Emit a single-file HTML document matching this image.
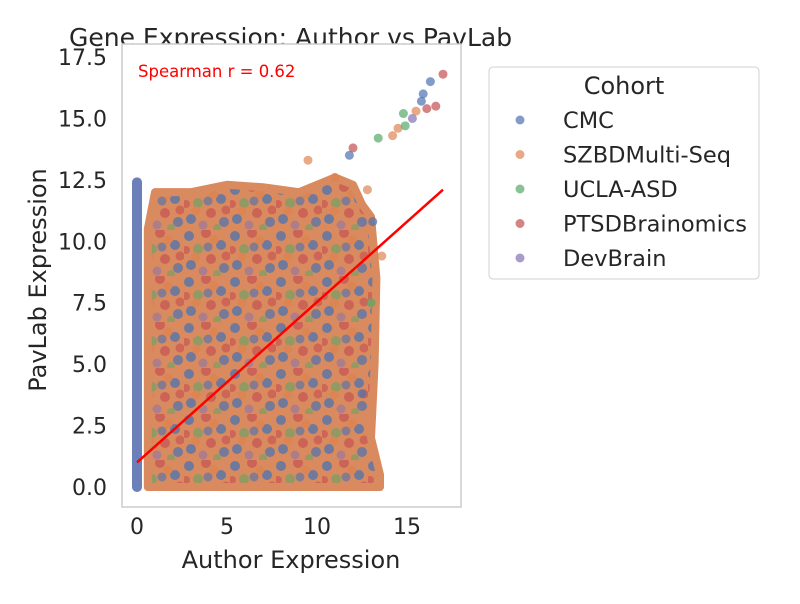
<!DOCTYPE html>
<html><head><meta charset="utf-8"><style>
body{margin:0;background:#fff;font-family:"DejaVu Sans","Liberation Sans",sans-serif}
</style></head><body>
<svg id="chart" width="800" height="600" xmlns="http://www.w3.org/2000/svg">
<defs>
<pattern id="mix" width="46" height="46" patternUnits="userSpaceOnUse">
<rect width="46" height="46" fill="#d98a5e"/>
<circle cx="5" cy="6" r="5" fill="#4c72b0" opacity="0.75"/>
<circle cx="22" cy="3" r="5" fill="#c44e52" opacity="0.65"/>
<circle cx="37" cy="15" r="5" fill="#4c72b0" opacity="0.75"/>
<circle cx="14" cy="19" r="5" fill="#55a868" opacity="0.55"/>
<circle cx="27" cy="29" r="5" fill="#c44e52" opacity="0.65"/>
<circle cx="7" cy="35" r="5" fill="#4c72b0" opacity="0.75"/>
<circle cx="19" cy="41" r="4.5" fill="#8172b3" opacity="0.5"/>
<circle cx="40" cy="38" r="5" fill="#4c72b0" opacity="0.7"/>
<circle cx="2" cy="20" r="4" fill="#c44e52" opacity="0.6"/>
<circle cx="30" cy="10" r="4.5" fill="#dd8452" opacity="0.9"/>
<circle cx="24" cy="17" r="4.5" fill="#4c72b0" opacity="0.6"/>
<circle cx="42" cy="26" r="4.5" fill="#c44e52" opacity="0.6"/>
<circle cx="12" cy="27" r="4.5" fill="#dd8452" opacity="0.9"/>
<circle cx="33" cy="44" r="4" fill="#55a868" opacity="0.5"/>
</pattern>
</defs>
<text x="69" y="46" font-size="25" fill="#262626">Gene Expression: Author vs PavLab</text>
<rect x="122" y="44" width="339" height="463" fill="#fff" stroke="#cccccc" stroke-width="1.5"/>
<g id="cloud"></g>
<g id="pts"></g>
<g id="axes"></g>
<text x="138" y="77" font-size="16.5" fill="#ff0000">Spearman r = 0.62</text>
<text x="291" y="568" font-size="24" fill="#262626" text-anchor="middle">Author Expression</text>
<text x="46" y="280" font-size="24" fill="#262626" text-anchor="middle" transform="rotate(-90 46 280)">PavLab Expression</text>
<g>
<rect x="489" y="67" width="270" height="212" rx="4" fill="#fff" stroke="#d0d0d0"/>
<text x="624" y="94" font-size="24" fill="#262626" text-anchor="middle">Cohort</text>
<g id="leg"></g>
</g>
</svg>
<script>
const X0=137, XS=18, Y0=487, YS=24.57;
const sx=v=>X0+v*XS, sy=v=>Y0-v*YS;
const cohorts=["CMC","SZBDMulti-Seq","UCLA-ASD","PTSDBrainomics","DevBrain"];
const colors=["#4c72b0","#dd8452","#55a868","#c44e52","#8172b3"];
const xTicks=[0,5,10,15];
const yTicks=[0,2.5,5,7.5,10,12.5,15,17.5];
const yTickLabels=["0.0","2.5","5.0","7.5","10.0","12.5","15.0","17.5"];
// envelope of dense cloud (x, y)
const cloudX=[0.6,1,3,5,7,9,10,11,12,12.5,13,13.3,13.2,13,13.5,13.5];
const cloudY=[10.5,12.0,12.0,12.3,12.2,12.0,12.3,12.6,12.3,11.5,11,8.5,5,2,0.5,0];
// x=0 column
const colTop=12.4;
// outlier points: x, y, cohort index
const outX=[14.5,14.8,15.5,15.9,16.3,16.6,17.0,14.2,13.4,11.0,12.0,11.8,9.5,15.8,16.1,15.3,14.9,12.8,13.1,13.6,13.0,12.5];
const outY=[14.6,15.2,15.3,16.0,16.5,15.5,16.8,14.3,14.2,12.6,13.8,13.5,13.3,15.7,15.4,15.0,14.7,12.1,10.8,9.4,7.5,3.8];
const outC=[1,2,1,0,0,3,3,1,2,1,3,0,1,0,3,4,2,1,0,1,2,0];
const lineX=[0,17], lineY=[1.0,12.1];
const NS="http://www.w3.org/2000/svg";
function mk(t,a,p){const e=document.createElementNS(NS,t);for(const k in a)e.setAttribute(k,a[k]);p.appendChild(e);return e;}
const cloud=document.getElementById('cloud');
let d=`M${sx(cloudX[0])},${sy(0)}`;
cloudX.forEach((x,i)=>d+=` L${sx(x)},${sy(cloudY[i])}`);
d+=` L${sx(cloudX[0])},${sy(0)} Z`;
const cp=mk('path',{d:d,fill:'url(#mix)',stroke:'#d98a5e','stroke-width':8,'stroke-linejoin':'round'},cloud);


const col=mk('rect',{x:sx(0)-5,y:sy(colTop)-5,width:10,height:sy(0)-sy(colTop)+10,rx:5,fill:'#6b7fb8'},cloud);


const pts=document.getElementById('pts');
outX.forEach((x,i)=>{const c=mk('circle',{cx:sx(x),cy:sy(outY[i]),r:4.5,fill:colors[outC[i]],'fill-opacity':0.7},pts);

});
const rl=mk('line',{x1:sx(lineX[0]),y1:sy(lineY[0]),x2:sx(lineX[1]),y2:sy(lineY[1]),stroke:'#ff0000','stroke-width':2.5},pts);


const ax=document.getElementById('axes');
xTicks.forEach(v=>{const t=mk('text',{x:sx(v),y:534,'font-size':22,fill:'#262626','text-anchor':'middle'},ax);t.textContent=v;

});
yTicks.forEach((v,i)=>{const t=mk('text',{x:107,y:sy(v)+8,'font-size':22,fill:'#262626','text-anchor':'end'},ax);t.textContent=yTickLabels[i];

});
const leg=document.getElementById('leg');
cohorts.forEach((c,i)=>{const y=120+i*34.5;
const m=mk('circle',{cx:520,cy:y,r:4.5,fill:colors[i],'fill-opacity':0.7},leg);


const t=mk('text',{x:563,y:y+8,'font-size':22.5,fill:'#262626'},leg);t.textContent=c;

});
</script>
</body></html>
